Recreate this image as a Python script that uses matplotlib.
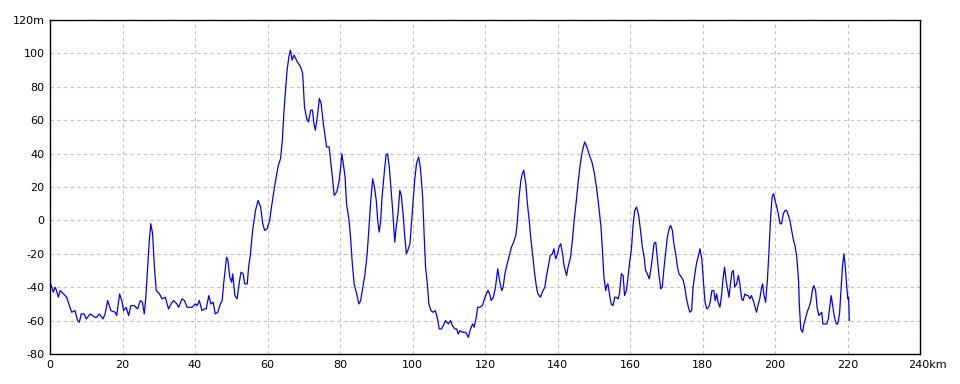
import matplotlib
matplotlib.use("Agg")
import matplotlib.pyplot as plt
import matplotlib.transforms as mtransforms

# distance along route (km) and elevation (m)
dist_km = [
    0, 0.5, 0.9, 1.4, 1.8, 2.3, 2.8, 3.7, 4.6, 5.5, 6, 6.9, 7.6, 8.1, 8.6, 9.4, 10,
    11.1, 12.4, 12.9, 13.6, 14.6, 15.2, 15.9, 16.8, 18, 18.4, 19.2, 19.8, 20.3, 21,
    21.7, 22.3, 23.2, 24.2, 24.9, 25.5, 26, 26.4, 26.9, 27.4, 27.8, 28.3, 28.8, 29.3,
    30.2, 30.9, 31.8, 32.7, 33.4, 34.1, 35, 35.5, 36.4, 37.1, 37.8, 39.2, 40.1, 40.6,
    41.2, 41.9, 42.6, 43.1, 43.8, 44.4, 45, 45.6, 46.3, 47, 47.5, 47.9, 48.7, 49.1,
    49.6, 50.1, 50.4, 51, 51.6, 52.3, 52.7, 53.3, 53.7, 54.4, 54.8, 55.3, 55.9, 56.7,
    57.4, 58.1, 58.7, 59.2, 59.9, 60.6, 61.1, 61.8, 62.4, 63, 63.6, 64.1, 64.5, 65,
    65.4, 65.9, 66.3, 66.8, 67.3, 68.2, 69.1,
    69.7, 70.2, 70.8, 71.3, 71.9, 72.4, 72.8, 73.2, 73.8, 74.3, 74.8, 75.4, 75.9,
    76.3, 77, 77.4, 77.9, 78.4, 79.1, 79.7, 80.2, 80.5, 80.9, 81.4, 81.8, 82.5, 82.9,
    83.4, 83.9, 84.6, 85.2, 85.7, 86.3, 86.9, 87.5, 88, 88.5, 89, 89.5, 90, 90.4,
    90.8, 91.2, 91.6, 92.1, 92.7, 93.1, 93.6, 94, 94.6, 95.1, 95.5, 96, 96.5, 96.9,
    97.4, 97.8, 98.3, 98.7, 99.3, 99.7, 100.2, 100.6, 101.1, 101.7, 102.2, 102.8,
    103.2, 103.6, 104.1, 104.5, 105.1, 105.7, 106.3, 106.8, 107.4, 108, 108.7, 109.1,
    109.9, 110.5, 111, 111.7, 112.2, 112.6, 113.1, 113.8, 114.7, 115.4, 116, 116.6,
    117, 117.5, 118, 118.6, 119.3, 119.7, 120.2, 120.8, 121.3, 121.7, 122.3, 122.9,
    123.5, 124, 124.6, 125, 125.5, 125.9, 126.6, 127.3, 127.9, 128.5, 128.9, 129.4,
    129.9, 130.3, 130.7, 131.3, 131.7, 132.2, 132.6, 133.1, 133.7, 134.2, 134.6,
    135.3, 135.8, 136.5, 136.9, 137.6, 138, 138.6, 139, 139.5, 140, 140.4, 140.9,
    141.4, 141.8, 142.5, 142.9, 143.6, 144.1, 144.6, 145.2, 145.7, 146.3, 146.8,
    147.5, 148.1, 148.8, 149.5, 150.2, 150.8, 151.3,
    152, 152.4, 152.8, 153.3, 153.6, 153.9, 154.4, 154.8, 155.3, 155.8, 156.2, 156.7,
    157.1, 157.6, 158.1, 158.5, 159, 159.4, 159.9, 160.4, 160.8, 161.3, 161.8, 162.4,
    162.9, 163.4, 163.9, 164.3, 164.8, 165.3, 165.7, 166.2, 166.6, 167.1, 167.6, 168,
    168.5, 168.9, 169.4, 169.9, 170.3, 170.8, 171.2, 171.7, 172.1, 172.6, 173.1,
    173.5, 174.2, 174.7, 175.1, 175.6, 176.1, 176.5, 177, 177.4, 177.9, 178.4, 178.8,
    179.3, 179.8, 180.3, 180.7, 181.2, 181.7, 182.1, 182.6, 183.1, 183.5, 183.9,
    184.3, 184.8, 185.3, 185.7, 186.1, 186.5, 187, 187.3, 187.6, 188.1, 188.5, 188.9,
    189.4, 189.9, 190.3, 190.8, 191.2, 191.7, 192.2, 192.6, 193.1, 193.5, 194, 194.5,
    194.9, 195.4, 195.8, 196.3, 196.6, 196.9, 197.4, 197.9, 198.3, 198.8, 199.2,
    199.6, 200, 200.5, 200.9, 201.4, 201.8, 202.3, 202.8, 203.2, 203.7, 204.1, 204.6,
    205.1, 205.5, 206, 206.5, 206.7, 207.1, 207.6, 208, 208.5, 209, 209.4, 209.9,
    210.3, 210.7, 211.2, 211.6, 212.1, 212.5, 212.9, 213.2, 213.6, 214.3, 214.7,
    215.2, 215.5, 215.9, 216.4, 216.9, 217.3, 217.8, 218.2, 218.6, 219, 219.4, 219.8,
    220.1, 220.3, 220.5,
]
elev_m = [
    -37, -40, -43, -40, -42, -46, -42, -44, -46, -52, -55, -54, -60, -61, -56, -56, -59,
    -56, -58, -58, -56, -59, -56, -48, -54, -55, -57, -44, -48, -54, -52,
    -57, -51, -51, -53, -48, -49, -56, -47, -30, -12, -2, -8, -28, -42,
    -44, -47, -46, -53, -50, -48, -50, -52, -47, -48, -52, -52, -50, -51,
    -48, -54, -53, -53, -45, -50, -49, -56, -55, -50, -48, -38, -22, -24,
    -34, -37, -32, -45, -47, -36, -31, -32, -38, -38, -28, -20, -6, 6,
    12, 8, -2, -6, -5, 0, 8, 18, 26, 33, 37, 48, 64, 78,
    90, 98, 102, 96, 99, 95, 92,
    88, 68, 61, 59, 66, 66, 58, 54, 63, 73, 70, 58, 50,
    44, 44, 36, 26, 15, 17, 23, 32, 40, 34, 26, 10, 0, -10,
    -26, -38, -44, -50, -48, -40, -32, -20, -4, 12, 25, 20, 12, 0,
    -7, -1, 14, 26, 39, 40, 32, 21, 4, -13, -4, 4, 18, 15,
    4, -8, -20, -18, -14, -2, 12, 24, 34, 38, 31, 14,
    -8, -28, -38, -50, -54, -55, -54, -58, -65, -65, -62, -60,
    -62, -60, -63, -65, -65, -68, -66, -67, -67, -70, -65, -62,
    -64, -59, -52, -52, -51, -48, -45, -42, -44, -48, -46, -40,
    -29, -36, -42, -40, -32, -28, -22, -16, -13, -9, -1, 14,
    24, 28, 30, 21, 10, 0, -10, -20, -32, -40, -44,
    -46, -43, -40, -34, -26, -21, -20, -17, -23, -20, -16, -14,
    -20, -27, -33, -28, -22, -12, 0, 12, 23, 34, 41,
    47, 44, 39, 35, 28, 19, 10,
    -4, -18, -34, -42, -39, -38, -45, -50, -51, -46, -46, -47,
    -44, -32, -33, -45, -42, -35, -25, -17, -4, 6, 8, 3,
    -6, -16, -22, -30, -32, -35, -30, -22, -14, -13, -24, -33,
    -41, -40, -28, -18, -10, -5, -3, -6, -14, -20, -28,
    -32, -34, -36, -40, -47, -52, -55, -54, -40, -32, -25,
    -22, -17, -23, -38, -49, -53, -52, -49, -42, -42, -48, -44,
    -49, -52, -44, -34, -28, -36, -42, -46, -40, -31, -30, -40,
    -38, -33, -38, -47, -48, -44, -45, -45, -47, -45, -48, -52,
    -55, -50, -47, -40, -38, -44, -49, -36, -20, 2, 14,
    16, 12, 8, 4, -2, -2, 4, 6, 6, 3, 0, -6,
    -12, -15, -22, -36, -50, -65, -67, -62, -58, -54, -52, -48,
    -42, -39, -42, -52, -57, -56, -55, -62, -62, -62, -59,
    -50, -45, -51, -58, -62, -62, -56, -42, -28, -20, -28, -40,
    -47, -46, -60,
]

x_ticks = [0, 20, 40, 60, 80, 100, 120, 140, 160, 180, 200, 220, 240]
x_labels = ["0", "20", "40", "60", "80", "100", "120", "140", "160", "180", "200", "220", "240km"]
y_ticks = [-80, -60, -40, -20, 0, 20, 40, 60, 80, 100, 120]
y_labels = ["-80", "-60", "-40", "-20", "0", "20", "40", "60", "80", "100", "120m"]

fig = plt.figure(figsize=(9.6, 3.84), dpi=100)
ax = fig.add_axes([50 / 960, 1 - 354 / 384, 870 / 960, 334 / 384])

ax.plot(dist_km, elev_m, color="#0000ff", linewidth=0.9)

ax.set_xlim(0, 240)
ax.set_ylim(-80, 120)
ax.set_xticks(x_ticks)
ax.set_xticklabels(x_labels)
ax.set_yticks(y_ticks)
ax.set_yticklabels(y_labels)
ax.tick_params(length=0, labelsize=8, colors="black", pad=4)

# last x label sits a little right of its tick in the original
last = ax.get_xticklabels()[-1]
last.set_transform(last.get_transform() + mtransforms.ScaledTranslation(7 / 100, 0, fig.dpi_scale_trans))

ax.grid(True, color="#c0c0c0", linestyle=(0, (3, 3)), linewidth=0.8)
ax.set_axisbelow(True)
for s in ax.spines.values():
    s.set_color("black")
    s.set_linewidth(1.0)

fig.savefig("out.png", dpi=100)
